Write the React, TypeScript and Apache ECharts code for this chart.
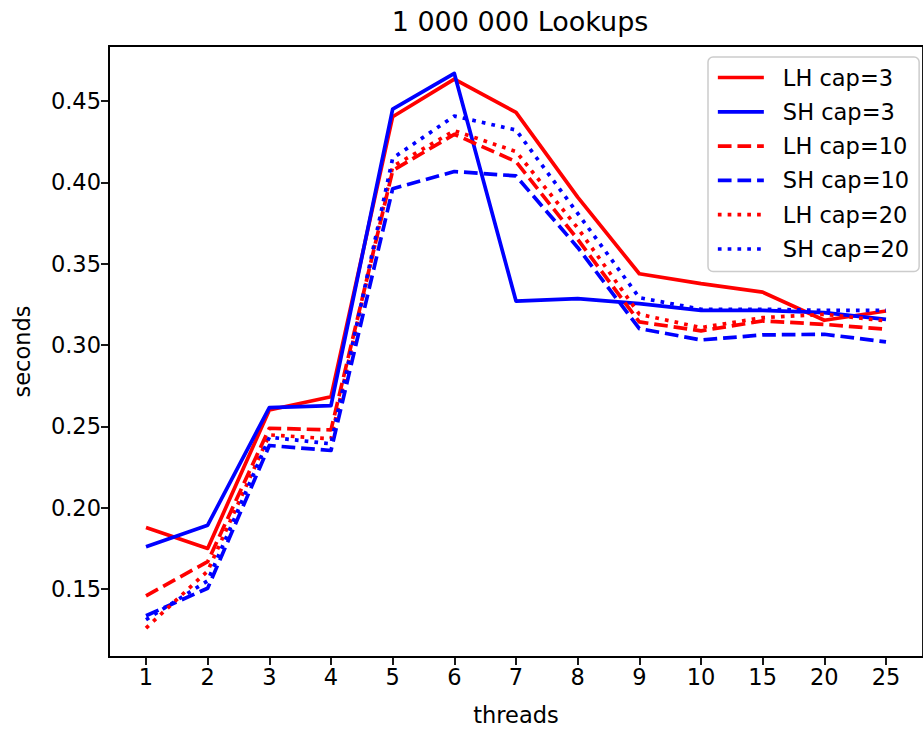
import React, { useEffect, useRef } from "react";
import * as echarts from "echarts";

const threads = ["1", "2", "3", "4", "5", "6", "7", "8", "9", "10", "15", "20", "25"];
const yTicks = [0.15, 0.2, 0.25, 0.3, 0.35, 0.4, 0.45];

const lhCap3 = [0.1877, 0.1749, 0.26, 0.2682, 0.4404, 0.4635, 0.4431, 0.391, 0.3438, 0.3377, 0.3325, 0.3152, 0.3209];
const shCap3 = [0.1759, 0.1892, 0.2615, 0.2627, 0.4451, 0.467, 0.327, 0.3285, 0.3254, 0.3213, 0.3213, 0.3199, 0.3158];
const lhCap10 = [0.1457, 0.1667, 0.2488, 0.2478, 0.4073, 0.4296, 0.4128, 0.365, 0.3142, 0.3087, 0.3148, 0.3127, 0.3097];
const shCap10 = [0.1335, 0.1504, 0.2382, 0.2351, 0.3961, 0.4067, 0.404, 0.36, 0.3101, 0.3031, 0.3062, 0.3066, 0.3019];
const lhCap20 = [0.1259, 0.161, 0.2447, 0.2423, 0.4098, 0.4318, 0.419, 0.372, 0.3189, 0.3107, 0.3168, 0.3189, 0.3148];
const shCap20 = [0.131, 0.155, 0.2433, 0.2392, 0.4149, 0.4408, 0.4322, 0.381, 0.3291, 0.322, 0.322, 0.3213, 0.3213];

const FONT = "DejaVu Sans";
const LW = 3.7;

export default function App() {
  const ref = useRef<HTMLDivElement>(null);
  useEffect(() => {
    if (!ref.current) return;
    const chart = echarts.init(ref.current, undefined, { renderer: "svg" });
    const mk = (name: string, vals: number[], color: string, type: any) => ({
      name,
      type: "line",
      data: vals.map((v, i) => [i, v]),
      symbol: "none",
      lineStyle: { color, width: LW, type, cap: "butt", join: "round" },
      itemStyle: { color },
    });
    const dashed = [3.7 * LW, 1.6 * LW];
    const dotted = [1 * LW, 1.65 * LW];
    chart.setOption({
      animation: false,
      backgroundColor: "#ffffff",
      title: {
        text: "1 000 000 Lookups",
        left: 515,
        top: 3,
        textAlign: "center",
        textStyle: { fontFamily: FONT, fontSize: 27, fontWeight: "normal", color: "#000" },
      },
      grid: {
        left: 109,
        top: 46,
        width: 825,
        height: 613,
        show: true,
        borderColor: "#000",
        borderWidth: 1.8,
        backgroundColor: "transparent",
      },
      legend: {
        orient: "vertical",
        left: 708,
        top: 57,
        padding: [9, 10, 11, 8],
        itemWidth: 46,
        itemHeight: 14,
        itemGap: 11.3,
        backgroundColor: "rgba(255,255,255,0.8)",
        borderColor: "#cccccc",
        borderWidth: 1.5,
        borderRadius: 5,
        itemStyle: { color: "transparent", borderWidth: 0, opacity: 0 },
        lineStyle: { width: LW },
        textStyle: { fontFamily: FONT, fontSize: 22.5, color: "#000", lineHeight: 22, padding: [0, 0, 0, 14] },
        data: ["LH cap=3", "SH cap=3", "LH cap=10", "SH cap=10", "LH cap=20", "SH cap=20"],
      },
      xAxis: {
        type: "value",
        min: -0.6,
        max: 12.6,
        name: "threads",
        nameLocation: "middle",
        nameGap: 46,
        nameTextStyle: { fontFamily: FONT, fontSize: 22.5, color: "#000" },
        splitLine: { show: false },
        axisLine: { show: true, onZero: false, lineStyle: { color: "#000", width: 1.8 } },
        axisTick: { show: true, length: 8, lineStyle: { color: "#000", width: 1.8 }, customValues: threads.map((_, i) => i) },
        axisLabel: {
          customValues: threads.map((_, i) => i),
          formatter: (v: number) => threads[Math.round(v)] ?? "",
          fontFamily: FONT,
          fontSize: 22.5,
          color: "#000",
          margin: 8,
        },
      },
      yAxis: {
        type: "value",
        min: 0.1081,
        max: 0.4839,
        name: "seconds",
        nameLocation: "middle",
        nameGap: 76,
        nameRotate: 90,
        nameTextStyle: { fontFamily: FONT, fontSize: 22.5, color: "#000" },
        splitLine: { show: false },
        axisLine: { show: true, onZero: false, lineStyle: { color: "#000", width: 1.8 } },
        axisTick: { show: true, length: 8, lineStyle: { color: "#000", width: 1.8 }, customValues: yTicks },
        axisLabel: {
          customValues: yTicks,
          formatter: (v: number) => v.toFixed(2),
          fontFamily: FONT,
          fontSize: 22.5,
          color: "#000",
          margin: 8,
        },
      },
      series: [
        mk("LH cap=3", lhCap3, "#ff0000", "solid"),
        mk("SH cap=3", shCap3, "#0000ff", "solid"),
        mk("LH cap=10", lhCap10, "#ff0000", dashed),
        mk("SH cap=10", shCap10, "#0000ff", dashed),
        mk("LH cap=20", lhCap20, "#ff0000", dotted),
        mk("SH cap=20", shCap20, "#0000ff", dotted),
      ],
    });
    return () => chart.dispose();
  }, []);
  return <div ref={ref} style={{ position: "fixed", left: 0, top: 0, width: 923, height: 731 }} />;
}
